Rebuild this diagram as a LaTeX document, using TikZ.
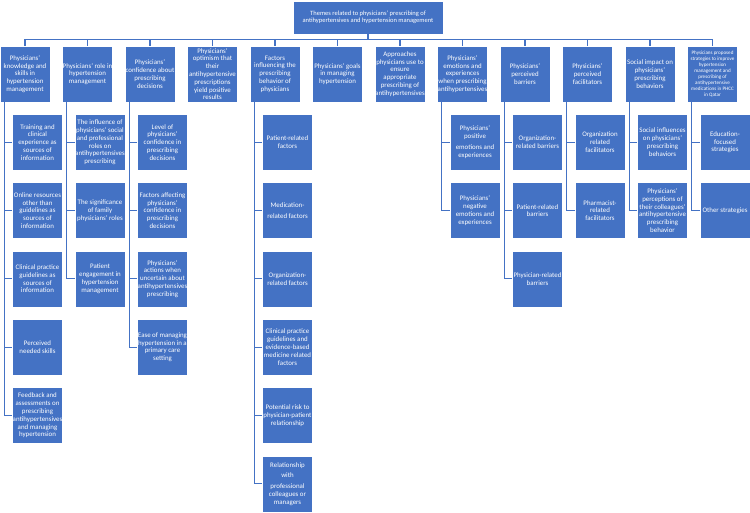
\documentclass[tikz,border=0pt]{standalone}
\usepackage{fontspec}
\setmainfont{Carlito}
\definecolor{ofblue}{HTML}{4472C4}
\begin{document}
\begin{tikzpicture}[x=1pt,y=-1pt,
  box/.style={draw=white,line width=0.5pt,fill=ofblue,text=white,minimum width=50pt,minimum height=56pt,inner sep=0pt,align=center,font=\fontsize{6.9}{7.8}\selectfont},
  topbox/.style={box,minimum width=150pt,minimum height=33pt,font=\fontsize{6.5}{6.9}\selectfont},
  tiny/.style={font=\fontsize{5.1}{6.1}\selectfont},
  conn/.style={draw=ofblue,line width=1.1pt}]
\useasboundingbox (0,0) rectangle (750,512);
\node[topbox] (top) at (368,17.5) {Themes related to physicians’ prescribing of\\antihypertensives and hypertension management};
% level 1
\node[box] (L1) at (25,74) {Physicians’\\knowledge and\\skills in\\hypertension\\management};
\node[box] (L2) at (87.5,74) {Physicians’ role in\\hypertension\\management};
\node[box] (L3) at (150,74) {Physicians’\\confidence about\\prescribing\\decisions};
\node[box] (L4) at (212.5,74) {Physicians’\\optimism that\\their\\antihypertensive\\prescriptions\\yield positive\\results};
\node[box] (L5) at (275,74) {Factors\\influencing the\\prescribing\\behavior of\\physicians};
\node[box] (L6) at (337.5,74) {Physicians’ goals\\in managing\\hypertension};
\node[box] (L7) at (400,74) {Approaches\\physicians use to\\ensure\\appropriate\\prescribing of\\antihypertensives};
\node[box] (L8) at (462.5,74) {Physicians’\\emotions and\\experiences\\when prescribing\\antihypertensives};
\node[box] (L9) at (525,74) {Physicians’\\perceived\\barriers};
\node[box] (L10) at (587.5,74) {Physicians’\\perceived\\facilitators};
\node[box] (L11) at (650,74) {Social impact on\\physicians’\\prescribing\\behaviors};
\node[box,tiny] (L12) at (712.5,74) {Physicians proposed\\strategies to improve\\hypertension\\management and\\prescribing of\\antihypertensive\\medications in PHCC\\in Qatar};
\foreach \i in {1,...,12} \draw[conn] (top.south) -- ++(0,5.5) -| (L\i.north);
% column 1
\node[box] (C1a) at (37.5,142.3) {Training and\\clinical\\experience as\\sources of\\information};
\node[box] (C1b) at (37.5,210.6) {Online resources\\other than\\guidelines as\\sources of\\information};
\node[box] (C1c) at (37.5,278.9) {Clinical practice\\guidelines as\\sources of\\information};
\node[box] (C1d) at (37.5,347.2) {Perceived\\needed skills};
\node[box] (C1e) at (37.5,415.5) {Feedback and\\assessments on\\prescribing\\antihypertensives\\and managing\\hypertension};
% column 2
\node[box] (C2a) at (100,142.3) {The influence of\\physicians’ social\\and professional\\roles on\\antihypertensives\\prescribing};
\node[box] (C2b) at (100,210.6) {The significance\\of family\\physicians’ roles};
\node[box] (C2c) at (100,278.9) {Patient\\engagement in\\hypertension\\management};
% column 3
\node[box] (C3a) at (162.5,142.3) {Level of\\physicians’\\confidence in\\prescribing\\decisions};
\node[box] (C3b) at (162.5,210.6) {Factors affecting\\physicians’\\confidence in\\prescribing\\decisions};
\node[box] (C3c) at (162.5,278.9) {Physicians’\\actions when\\uncertain about\\antihypertensives\\prescribing};
\node[box] (C3d) at (162.5,347.2) {Ease of managing\\hypertension in a\\primary care\\setting};
% column 5
\node[box] (C5a) at (287.5,142.3) {Patient-related\\factors};
\node[box] (C5b) at (287.5,210.6) {Medication-\\[3pt]related factors};
\node[box] (C5c) at (287.5,278.9) {Organization-\\related factors};
\node[box] (C5d) at (287.5,347.2) {Clinical practice\\guidelines and\\evidence-based\\medicine related\\factors};
\node[box] (C5e) at (287.5,415.5) {Potential risk to\\physician-patient\\relationship};
\node[box] (C5f) at (287.5,483.8) {Relationship\\[3pt]with\\[3pt]professional\\colleagues or\\managers};
% column 8
\node[box] (C8a) at (475,142.3) {Physicians’\\positive\\[3pt]emotions and\\experiences};
\node[box] (C8b) at (475,210.6) {Physicians’\\negative\\emotions and\\experiences};
% column 9
\node[box] (C9a) at (537.5,142.3) {Organization-\\related barriers};
\node[box] (C9b) at (537.5,210.6) {Patient-related\\barriers};
\node[box] (C9c) at (537.5,278.9) {Physician-related\\barriers};
% column 10
\node[box] (C10a) at (600,142.3) {Organization\\related\\facilitators};
\node[box] (C10b) at (600,210.6) {Pharmacist-\\related\\facilitators};
% column 11
\node[box] (C11a) at (662.5,142.3) {Social influences\\on physicians’\\prescribing\\behaviors};
\node[box] (C11b) at (662.5,210.6) {Physicians’\\perceptions of\\their colleagues’\\antihypertensive\\prescribing\\behavior};
% column 12
\node[box] (C12a) at (725,142.3) {Education-\\focused\\strategies};
\node[box] (C12b) at (725,210.6) {Other strategies};
% child connectors
\foreach \p/\cs in {1/{a,b,c,d,e},2/{a,b,c},3/{a,b,c,d},5/{a,b,c,d,e,f},8/{a,b},9/{a,b,c},10/{a,b},11/{a,b},12/{a,b}}
  \foreach \c in \cs
    \draw[conn] ([xshift=4.5pt]L\p.south west) |- (C\p\c.west);
\end{tikzpicture}
\end{document}
